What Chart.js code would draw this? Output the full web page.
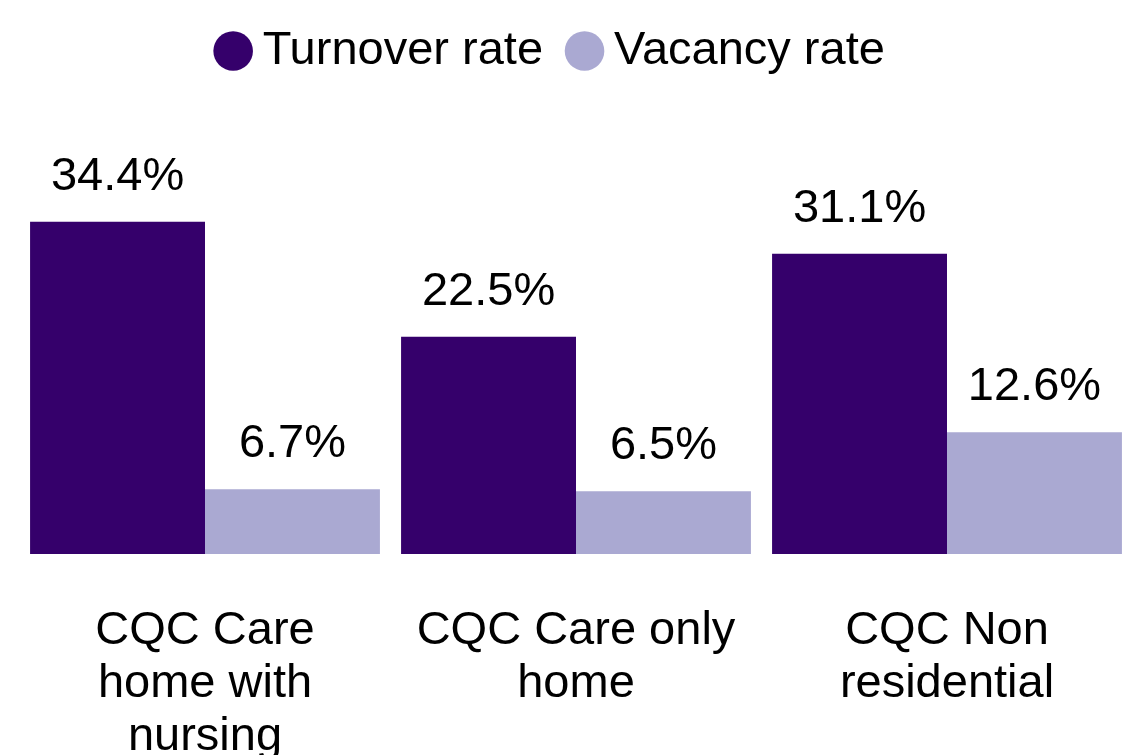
<!DOCTYPE html>
<html>
<head>
<meta charset="utf-8">
<script src="https://cdn.jsdelivr.net/npm/chart.js@4/dist/chart.umd.min.js"></script>
<style>
  html, body { margin: 0; padding: 0; background: #fff; }
  #wrap { width: 1136px; height: 755px; }
</style>
</head>
<body>
<div id="wrap"><canvas id="myChart"></canvas></div>
<script>
// data
const categories = [
  ['CQC Care', 'home with', 'nursing'],
  ['CQC Care only', 'home'],
  ['CQC Non', 'residential']
]
const turnover = [34.4, 22.5, 31.1]
const vacancy = [6.7, 6.5, 12.6]
const seriesNames = ['Turnover rate', 'Vacancy rate']

const FONT = 'Liberation Sans, Arial, sans-serif'

// value labels above each bar
const barLabels = {
  id: 'barLabels',
  afterDatasetsDraw(chart) {
    const ctx = chart.ctx
    ctx.save()
    ctx.font = '47px ' + FONT
    ctx.fillStyle = '#000'
    ctx.textAlign = 'center'
    ctx.textBaseline = 'alphabetic'
    chart.data.datasets.forEach((ds, i) => {
      chart.getDatasetMeta(i).data.forEach((bar, j) => {
        ctx.fillText(ds.data[j].toFixed(1) + '%', bar.x, bar.y - 32)
      })
    })
    ctx.restore()
  }
}

// nudge the legend to where the original sits
const legendNudge = {
  id: 'legendNudge',
  afterLayout(chart) {
    const lg = chart.legend
    lg.left -= 20
    lg.right -= 20
    lg.top -= 8
    lg.bottom -= 8
  }
}

const ctx = document.getElementById('myChart').getContext('2d')
const chart = new Chart(ctx, {
  type: 'bar',
  data: {
    labels: categories,
    datasets: [{
      label: seriesNames[0],
      data: turnover,
      backgroundColor: '#35006b'
    }, {
      label: seriesNames[1],
      data: vacancy,
      backgroundColor: '#aaa9d2'
    }]
  },
  options: {
    responsive: true,
    maintainAspectRatio: false,
    animation: false,
    layout: { padding: { left: 19.5, right: 3.5, top: 0, bottom: 0 } },
    datasets: {
      bar: { categoryPercentage: 0.943, barPercentage: 1 }
    },
    plugins: {
      tooltip: { enabled: false },
      legend: {
        position: 'top',
        labels: {
          usePointStyle: true,
          pointStyle: 'circle',
          boxWidth: 12,
          boxHeight: 28,
          padding: 35.5,
          color: '#000',
          font: { family: FONT, size: 47 }
        }
      }
    },
    scales: {
      x: {
        grid: { display: false },
        border: { display: false },
        ticks: {
          color: '#000',
          padding: 42,
          maxRotation: 0,
          autoSkip: false,
          font: { family: FONT, size: 47, lineHeight: 1.13 }
        },
        afterFit(scale) { scale.height = 201 }
      },
      y: {
        display: false,
        min: 0,
        max: 47.8
      }
    }
  },
  plugins: [barLabels, legendNudge]
})
</script>
</body>
</html>
